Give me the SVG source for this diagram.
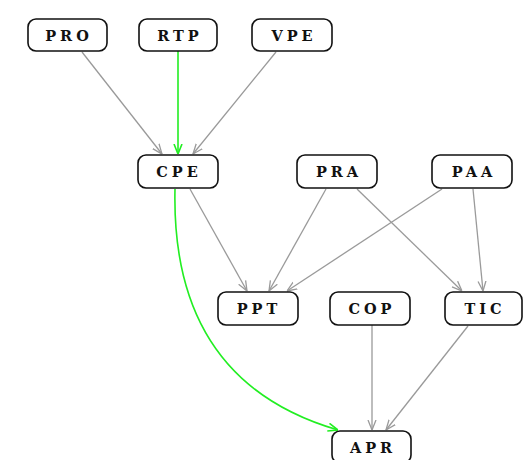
<svg xmlns="http://www.w3.org/2000/svg" width="524" height="460" viewBox="0 0 524 460">
<style>
.n rect{fill:#fff;stroke:#111;stroke-width:1.6}
.n text{font-family:"DejaVu Serif","Liberation Serif",serif;font-weight:bold;font-size:14.5px;letter-spacing:4px;text-anchor:middle;fill:#111}
.e{fill:none;stroke:#9a9a9a;stroke-width:1.3;marker-end:url(#ag)}
.g{fill:none;stroke:#22ee22;stroke-width:1.6;marker-end:url(#gg)}
</style>
<defs>
<marker id="ag" viewBox="0 0 10 10" refX="10" refY="5" markerWidth="10" markerHeight="10" markerUnits="userSpaceOnUse" orient="auto"><path d="M0,1 L10,5 L0,9" fill="none" stroke="#9a9a9a" stroke-width="1.3"/></marker>
<marker id="gg" viewBox="0 0 10 10" refX="10" refY="5" markerWidth="10" markerHeight="10" markerUnits="userSpaceOnUse" orient="auto"><path d="M0,1 L10,5 L0,9" fill="none" stroke="#22ee22" stroke-width="1.6"/></marker>
</defs>
<rect width="524" height="460" fill="#fff"/>
<g id="edges">
<path class="e" d="M82,52 L162,154"/>
<path class="g" d="M178,51 L178,154"/>
<path class="e" d="M276,52 L193,154"/>
<path class="e" d="M190,189 L247,291"/>
<path class="e" d="M326,189 L269,291"/>
<path class="e" d="M442,189 L287,291"/>
<path class="e" d="M357,189 L462,291"/>
<path class="e" d="M473,189 L483,291"/>
<path class="e" d="M372,325 L372,430"/>
<path class="e" d="M468,326 L386,430"/>
<path class="g" d="M175,189 C172,320 228,398 338,430"/>
</g>
<g id="PRO" class="n"><rect x="28" y="19" width="79" height="32" rx="8"/><text x="69" y="40.5">PRO</text></g>
<g id="RTP" class="n"><rect x="139" y="19" width="78" height="32" rx="8"/><text x="180" y="40.5">RTP</text></g>
<g id="VPE" class="n"><rect x="252" y="19" width="80" height="32" rx="8"/><text x="294" y="40.5">VPE</text></g>
<g id="CPE" class="n"><rect x="138" y="155" width="80" height="33" rx="8"/><text x="179" y="176.5">CPE</text></g>
<g id="PRA" class="n"><rect x="297" y="155" width="80" height="33" rx="8"/><text x="339" y="176.5">PRA</text></g>
<g id="PAA" class="n"><rect x="432" y="155" width="80" height="33" rx="8"/><text x="474" y="176.5">PAA</text></g>
<g id="PPT" class="n"><rect x="218" y="292" width="80" height="33" rx="8"/><text x="259" y="313.5">PPT</text></g>
<g id="COP" class="n"><rect x="330" y="292" width="80" height="33" rx="8"/><text x="372" y="313.5">COP</text></g>
<g id="TIC" class="n"><rect x="445" y="292" width="77" height="33" rx="8"/><text x="485" y="313.5">TIC</text></g>
<g id="APR" class="n"><rect x="332" y="431" width="79" height="32" rx="8"/><text x="373" y="452.5">APR</text></g>
</svg>
